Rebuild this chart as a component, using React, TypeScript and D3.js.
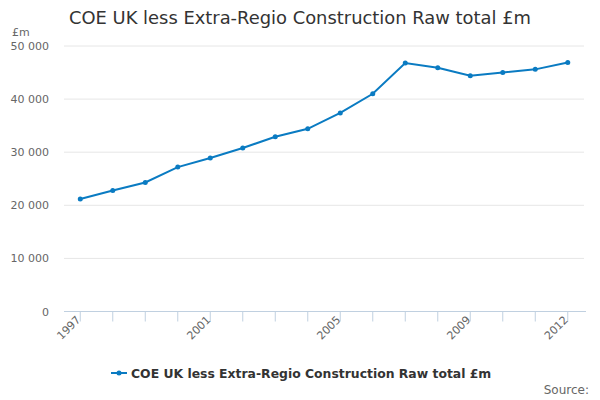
import * as d3 from "d3";

const years = [
  "1997", "1998", "1999", "2000", "2001", "2002", "2003", "2004",
  "2005", "2006", "2007", "2008", "2009", "2010", "2011", "2012",
];
const values = [
  21200, 22800, 24300, 27200, 28900, 30800, 32900, 34400,
  37400, 41000, 46800, 45900, 44400, 45000, 45600, 46900,
];
const yTicks = [0, 10000, 20000, 30000, 40000, 50000];
const xLabels = ["1997", "2001", "2005", "2009", "2012"];

const title = "COE UK less Extra-Regio Construction Raw total £m";
const seriesName = "COE UK less Extra-Regio Construction Raw total £m";

const width = 600;
const height = 400;
const font = "'DejaVu Sans', sans-serif";
const blue = "#0a7bc2";

export default function App() {
  const x = d3.scalePoint().domain(years).range([64, 584]).padding(0.5);
  const y = d3.scaleLinear().domain([0, 50000]).range([311.5, 46]);
  const fmt = (v: number) => d3.format(",")(v).replace(/,/g, " ");
  const [x0, x1] = x.range();

  const line = d3
    .line<number>()
    .x((_, i) => x(years[i]) || 0)
    .y((d) => y(d));

  return (
    <svg
      width={width}
      height={height}
      style={{ position: "absolute", left: 0, top: 0, background: "#fff" }}
      fontFamily={font}
    >
      <text x={69} y={24} fontSize={17.9} fill="#333">
        {title}
      </text>
      <text x={12} y={36} fontSize={11} fill="#666">
        £m
      </text>

      {yTicks.map((t) => (
        <g key={t}>
          {t > 0 && (
            <line x1={x0} x2={x1} y1={y(t)} y2={y(t)} stroke="#e6e6e6" />
          )}
          <text
            x={49}
            y={y(t) + 4}
            fontSize={11}
            fill="#666"
            textAnchor="end"
          >
            {fmt(t)}
          </text>
        </g>
      ))}

      <line x1={x0} x2={x1 + 2} y1={y(0)} y2={y(0)} stroke="#c0d0e0" />
      {years.map((yr) => (
        <line
          key={yr}
          x1={x(yr)}
          x2={x(yr)}
          y1={y(0)}
          y2={y(0) + 10}
          stroke="#c0d0e0"
        />
      ))}
      {xLabels.map((yr) => (
        <text
          key={yr}
          transform={`translate(${(x(yr) || 0) + 1},${y(0) + 9}) rotate(-45)`}
          fontSize={11}
          fill="#666"
          textAnchor="end"
        >
          {yr}
        </text>
      ))}

      <path d={line(values) || ""} fill="none" stroke={blue} strokeWidth={2} />
      {values.map((v, i) => (
        <circle key={i} cx={x(years[i])} cy={y(v)} r={2.5} fill={blue} />
      ))}

      <line x1={111} x2={127} y1={373} y2={373} stroke={blue} strokeWidth={2} />
      <circle cx={119} cy={373} r={2.5} fill={blue} />
      <text x={131} y={378} fontSize={12.4} fontWeight="bold" fill="#333">
        {seriesName}
      </text>

      <text x={589} y={394} fontSize={12} fill="#666" textAnchor="end">
        Source:
      </text>
    </svg>
  );
}
